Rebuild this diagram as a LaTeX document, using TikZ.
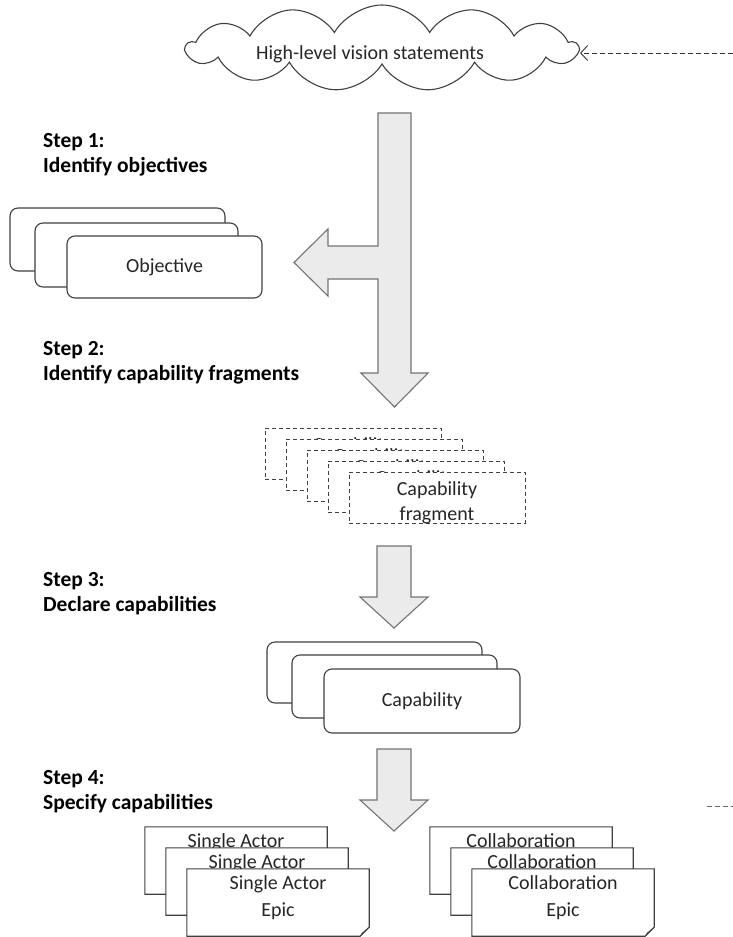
\documentclass[tikz,border=0pt]{standalone}
\usepackage{fontspec}
\setmainfont{Carlito}
\usetikzlibrary{shapes.symbols, arrows.meta, positioning}

% two centred lines, shifted up by #1 inside their own box
\newcommand{\twolines}[4]{\raisebox{#1}[\height][\depth]{\begin{tabular}{@{}c@{}}#3\\[#2]#4\end{tabular}}}

\begin{document}
\begin{tikzpicture}[
    x=1pt, y=-1pt,
    txt/.style={font=\fontsize{20}{24}\selectfont, text=black!85},
    box/.style={txt, draw=black!75, fill=white, line width=1.1pt, rounded corners=8pt},
    fragbox/.style={txt, draw=black!75, fill=white, line width=0.9pt, dash pattern=on 4pt off 3pt,
        minimum width=176pt, minimum height=51pt, inner sep=0pt},
    epic/.style={txt, fill=white, minimum width=182pt, minimum height=67pt, inner sep=0pt},
    epicline/.style={draw=black!75, line width=1.1pt, line join=miter},
    steplabel/.style={anchor=west, align=left, inner sep=0pt, font=\fontsize{21.5}{25}\selectfont\bfseries},
    bigarrow/.style={fill=black!8, draw=black!55, line width=1.1pt, line join=miter}
]
    \useasboundingbox (0,0) rectangle (733,937);

    % Vision cloud and incoming feed
    \node[cloud, draw=black!75, line width=1.1pt, cloud puffs=13, cloud puff arc=120, cloud ignores aspect,
          minimum width=391pt, minimum height=86pt, inner sep=0pt] (cloud) at (382,48) {};
    \node[txt] (vision) at (370,54) {High-level vision statements};
    \coordinate (feed) at (733,53);
    \draw[line width=0.9pt, draw=black!80, dash pattern=on 5pt off 3pt, -{Straight Barb[length=7pt, width=15pt]}]
        (feed) -- (feed -| cloud.east);

    % Step labels
    \node[steplabel] (step1) at (43,155) {Step 1:\\Identify objectives};
    \node[steplabel] (step2) at (43,363) {Step 2:\\Identify capability fragments};
    \node[steplabel] (step3) at (43,594) {Step 3:\\Declare capabilities};
    \node[steplabel] (step4) at (43,792) {Step 4:\\Specify capabilities};

    % Block arrows
    \draw[bigarrow] (378,113) -- (411,113) -- (411,373) -- (428,373) -- (394.5,407) -- (361,373)
        -- (378,373) -- (378,279) -- (328,279) -- (328,296) -- (294,262.5) -- (328,229)
        -- (328,246) -- (378,246) -- cycle;
    \foreach \y in {546, 749}
        \draw[bigarrow] (377,\y) -- ++(34,0) -- ++(0,51) -- ++(17,0) -- ++(-34,31)
            -- ++(-34,-31) -- ++(17,0) -- cycle;

    % Objectives
    \foreach \x/\y/\w/\h/\t [count=\i] in {117.5/239.5/215/63/{}, 136.5/255/203/64/{}, 164.5/267/195/62/Objective}
        \node[box, minimum width=\w pt, minimum height=\h pt] (obj\i) at (\x,\y) {\t};

    % Capability fragments
    \foreach \i in {0,...,4}
        \node[fragbox] (frag\i) at (353+21*\i, 453.5+11*\i) {\twolines{-5.5pt}{1pt}{Capability}{fragment}};

    % Capabilities
    \foreach \x/\y/\w/\h/\t [count=\i] in {374.5/672.5/215/61/{}, 394.5/686.5/205/63/{}, 422/701/196/64/Capability}
        \node[box, minimum width=\w pt, minimum height=\h pt] (cap\i) at (\x,\y) {\t};

    % Epics
    \foreach \s/\cx/\t in {sa/236/Single Actor, co/521/Collaboration}
        \foreach \i in {0,1,2} {
            \node[epic] (\s\i) at (\cx+21*\i, 860.5+21*\i) {\twolines{4pt}{3pt}{\t}{Epic}};
            \draw[epicline] (\s\i.north west) -- (\s\i.north east) -- ([yshift=9pt]\s\i.south east)
                -- ([xshift=-9pt]\s\i.south east) -- (\s\i.south west) -- cycle;
            \draw[epicline, fill=black!15, line width=0.8pt] ([yshift=9pt]\s\i.south east)
                -- ([xshift=-9pt]\s\i.south east) -- ([shift={(-7pt,3pt)}]\s\i.south east) -- cycle;
        }

    % More to come
    \coordinate (more0) at (707,806);
    \coordinate (more1) at (733,806);
    \draw[line width=0.9pt, draw=black!60, dash pattern=on 5pt off 3pt] (more0) -- (more1);

\end{tikzpicture}
\end{document}
